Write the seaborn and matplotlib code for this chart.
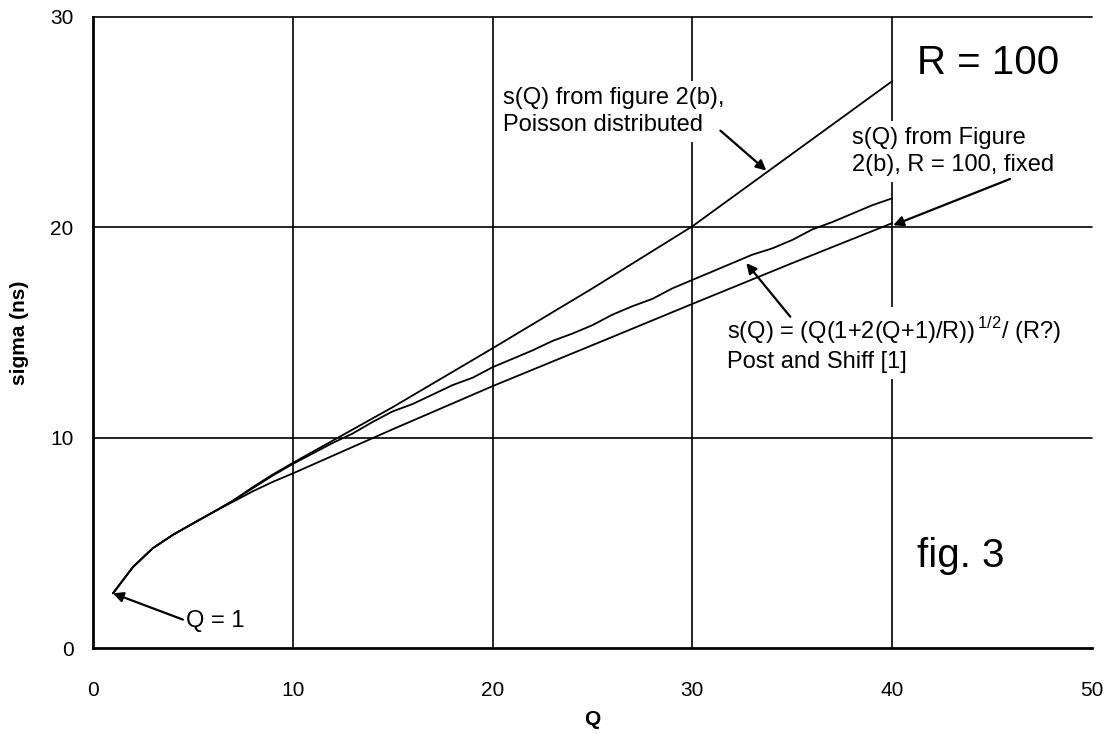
import matplotlib
matplotlib.use("Agg")
import matplotlib.pyplot as plt
import seaborn as sns
import pandas as pd
import numpy as np

# ---- data ----
q_poisson = [1, 2, 3, 4, 5, 6, 7, 8, 9, 10, 15, 20, 25, 30, 35, 40]
s_poisson = [2.6, 3.85, 4.75, 5.38, 5.92, 6.45, 7.0, 7.65, 8.25, 8.8,
             11.45, 14.25, 17.1, 20.05, 23.5, 26.95]

q_ps = list(range(1, 41))
s_ps = [2.6, 3.85, 4.75, 5.38, 5.92, 6.45, 7.0, 7.6, 8.2, 8.75,
        9.25, 9.75, 10.2, 10.75, 11.25, 11.6, 12.05, 12.5, 12.85, 13.35,
        13.75, 14.15, 14.6, 14.95, 15.35, 15.85, 16.25, 16.6, 17.1, 17.5,
        17.9, 18.3, 18.7, 19.0, 19.4, 19.9, 20.25, 20.65, 21.05, 21.38]

q_fixed = [1, 2, 3, 4, 5, 6, 7, 8, 9, 10, 15, 20, 25, 30, 35, 40]
s_fixed = [2.6, 3.85, 4.75, 5.38, 5.92, 6.45, 6.95, 7.45, 7.9, 8.3,
           10.4, 12.45, 14.4, 16.36, 18.3, 20.2]

x_ticks = [0, 10, 20, 30, 40, 50]
y_ticks = [0, 10, 20, 30]

df = pd.concat([
    pd.DataFrame({"Q": q_poisson, "sigma": s_poisson, "curve": "poisson"}),
    pd.DataFrame({"Q": q_ps, "sigma": s_ps, "curve": "post_shiff"}),
    pd.DataFrame({"Q": q_fixed, "sigma": s_fixed, "curve": "fixed"}),
], ignore_index=True)

sns.set_style("white")
plt.rcParams['font.family'] = ['Liberation Sans', 'DejaVu Sans']
plt.rcParams['mathtext.fontset'] = 'custom'
plt.rcParams['mathtext.rm'] = 'Liberation Sans'
plt.rcParams['text.color'] = 'black'
plt.rcParams['axes.labelcolor'] = 'black'

fig = plt.figure(figsize=(11.06, 7.34), dpi=100)
ax = fig.add_axes([93/1106, 1-648/734, (1092-93)/1106, (648-17)/734])

sns.lineplot(data=df, x="Q", y="sigma", units="curve", estimator=None,
             color="black", linewidth=1.3, sort=False, ax=ax, legend=False,
             zorder=3)

ax.set_xlim(0, 50)
ax.set_ylim(0, 30)
ax.set_xticks(x_ticks)
ax.set_yticks(y_ticks)
ax.tick_params(axis="both", direction="inout", length=8, width=1.3,
               labelsize=15, color="black", labelcolor="black")
ax.tick_params(axis="x", pad=20)
ax.tick_params(axis="y", pad=10)

for v in [10, 20, 30, 40]:
    ax.axvline(v, color="black", linewidth=1.2, zorder=0)
for v in [10, 20, 30]:
    ax.axhline(v, color="black", linewidth=1.2, zorder=0, clip_on=False)

for sp in ["top", "right"]:
    ax.spines[sp].set_visible(False)
for sp in ["left", "bottom"]:
    ax.spines[sp].set_color("black")
    ax.spines[sp].set_linewidth(2)

ax.set_xlabel("Q", fontsize=15, fontweight="bold", labelpad=7, color="black")
ax.set_ylabel("sigma (ns)", fontsize=15, fontweight="bold", labelpad=15,
              color="black")

arrow = dict(arrowstyle="-|>", color="black", lw=1.6, mutation_scale=15,
             shrinkA=0, shrinkB=0)
box = dict(boxstyle="square,pad=0.25", facecolor="white", edgecolor="none")

ax.text(41.25, 27.8, "R = 100", fontsize=29, va="center", ha="left",
        color="black")
ax.text(41.25, 4.37, "fig. 3", fontsize=29, va="center", ha="left",
        color="black")

ax.text(20.5, 25.5, "s(Q) from figure 2(b),\nPoisson distributed",
        fontsize=17, va="center", ha="left", linespacing=1.3, bbox=box,
        zorder=1, color="black")
ax.annotate("", xy=(33.7, 22.7), xytext=(31.4, 24.6), arrowprops=arrow,
            zorder=4)

ax.text(38.0, 23.6, "s(Q) from Figure\n2(b), R = 100, fixed",
        fontsize=17, va="center", ha="left", linespacing=1.3, bbox=box,
        zorder=1, color="black")
ax.annotate("", xy=(40.05, 20.1), xytext=(45.9, 22.3), arrowprops=arrow,
            zorder=4)

ax.text(31.75, 14.45,
        "s(Q) = (Q(1+2(Q+1)/R))$^{\\,\\mathrm{1/2}}$/ (R?)\nPost and Shiff [1]",
        fontsize=17, va="center", ha="left", linespacing=1.3, bbox=box,
        zorder=1, color="black")
ax.annotate("", xy=(32.7, 18.3), xytext=(34.9, 15.75), arrowprops=arrow,
            zorder=4)

ax.text(4.65, 1.3, "Q = 1", fontsize=17, va="center", ha="left",
        color="black")
ax.annotate("", xy=(1.0, 2.6), xytext=(4.5, 1.35), arrowprops=arrow)

fig.savefig("out.png", dpi=100)
